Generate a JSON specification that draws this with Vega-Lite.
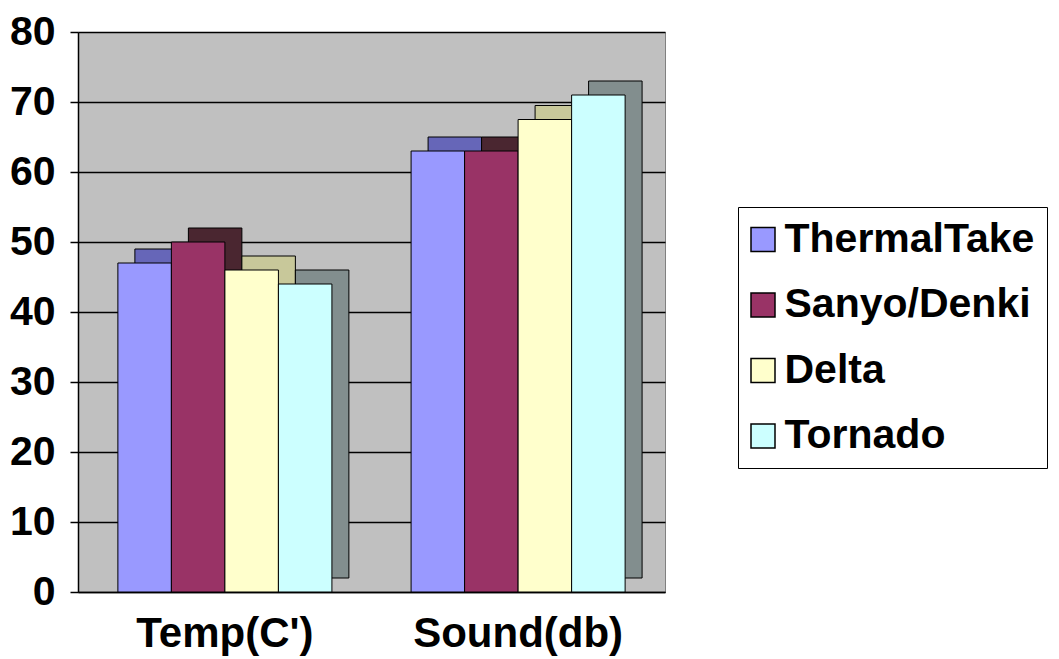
{
  "$schema": "https://vega.github.io/schema/vega-lite/v6.json",
  "width": 587,
  "height": 560,
  "autosize": "none",
  "padding": {"left": 78, "top": 32, "right": 394, "bottom": 67},
  "background": "white",
  "config": {
    "view": {"fill": "#C0C0C0", "stroke": "#808080", "strokeWidth": 1},
    "font": "Liberation Sans"
  },
  "data": {
    "values": [
      {"category": "Temp(C')", "brand": "ThermalTake", "value": 47},
      {"category": "Temp(C')", "brand": "Sanyo/Denki", "value": 50},
      {"category": "Temp(C')", "brand": "Delta", "value": 46},
      {"category": "Temp(C')", "brand": "Tornado", "value": 44},
      {"category": "Sound(db)", "brand": "ThermalTake", "value": 63},
      {"category": "Sound(db)", "brand": "Sanyo/Denki", "value": 63},
      {"category": "Sound(db)", "brand": "Delta", "value": 67.5},
      {"category": "Sound(db)", "brand": "Tornado", "value": 71}
    ]
  },
  "encoding": {
    "x": {
      "field": "category", "type": "nominal", "sort": null,
      "scale": {"paddingInner": 0.27, "paddingOuter": 0.136},
      "axis": {
        "title": null, "labelAngle": 0, "ticks": false,
        "domainColor": "black", "domainWidth": 1.5,
        "labelFont": "Liberation Sans", "labelFontSize": 42, "labelFontWeight": "bold",
        "labelColor": "black", "labelPadding": 21, "labelLimit": 400
      }
    },
    "y": {
      "field": "value", "type": "quantitative",
      "scale": {"domain": [0, 80], "nice": false},
      "axis": {
        "title": null, "values": [0, 10, 20, 30, 40, 50, 60, 70, 80],
        "grid": true, "gridColor": "black", "gridWidth": 1.5, "gridOpacity": 1,
        "domainColor": "black", "domainWidth": 1.5,
        "tickColor": "black", "tickSize": 8, "tickWidth": 1.5,
        "labelFont": "Liberation Sans", "labelFontSize": 41, "labelFontWeight": "bold",
        "labelColor": "black", "labelPadding": 15
      }
    }
  },
  "layer": [
    {
      "mark": {"type": "bar", "yOffset": -14, "y2Offset": -14, "stroke": "black", "strokeWidth": 1},
      "encoding": {
        "xOffset": {
          "field": "brand", "type": "nominal", "sort": ["ThermalTake", "Sanyo/Denki", "Delta", "Tornado"],
          "scale": {"range": [17, 231], "paddingInner": 0, "paddingOuter": 0}
        },
        "fill": {
          "field": "brand", "type": "nominal", "sort": ["ThermalTake", "Sanyo/Denki", "Delta", "Tornado"],
          "scale": {"domain": ["ThermalTake", "Sanyo/Denki", "Delta", "Tornado"], "range": ["#6666B8", "#4A2630", "#C8C89A", "#828E8E"]},
          "legend": null
        }
      }
    },
    {
      "mark": {"type": "bar", "stroke": "black", "strokeWidth": 1},
      "encoding": {
        "xOffset": {
          "field": "brand", "type": "nominal", "sort": ["ThermalTake", "Sanyo/Denki", "Delta", "Tornado"],
          "scale": {"paddingInner": 0, "paddingOuter": 0}
        },
        "fill": {
          "field": "brand", "type": "nominal", "sort": ["ThermalTake", "Sanyo/Denki", "Delta", "Tornado"],
          "scale": {"domain": ["ThermalTake", "Sanyo/Denki", "Delta", "Tornado"], "range": ["#9999FF", "#993366", "#FFFFCC", "#CCFFFF"]},
          "legend": {
            "title": null, "orient": "none", "legendX": 660, "legendY": 175,
            "symbolType": "square", "symbolSize": 576, "symbolStrokeColor": "black", "symbolStrokeWidth": 1.5,
            "symbolOpacity": 1, "symbolOffset": -7.5,
            "labelFont": "Liberation Sans", "labelFontSize": 41, "labelFontWeight": "bold", "labelColor": "black",
            "labelLimit": 400, "labelOffset": 1, "rowPadding": 23.5,
            "padding": 12, "strokeColor": "black", "fillColor": "white"
          }
        }
      }
    }
  ],
  "resolve": {"scale": {"fill": "independent", "xOffset": "independent"}}
}
